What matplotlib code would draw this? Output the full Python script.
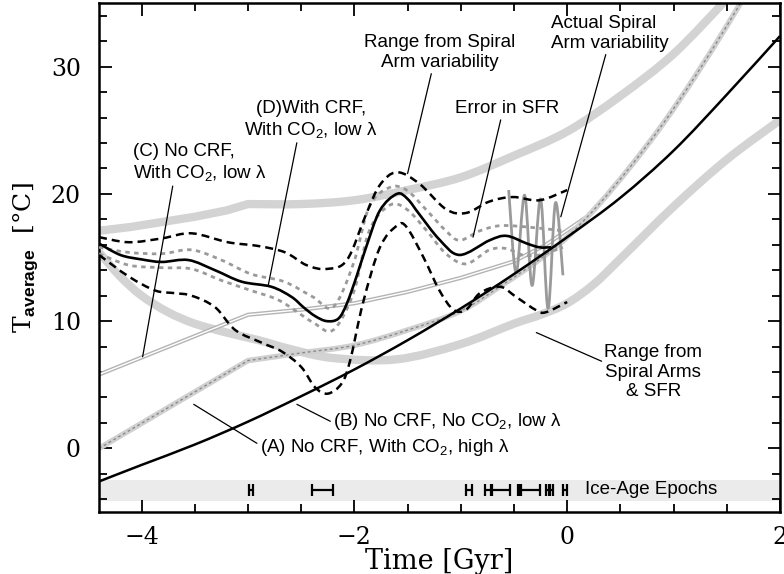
import matplotlib
matplotlib.use("Agg")
import matplotlib.pyplot as plt
import numpy as np
from matplotlib.path import Path
from matplotlib.patches import PathPatch
from matplotlib.ticker import MultipleLocator

plt.rcParams['font.family'] = ['DejaVu Serif']
plt.rcParams['mathtext.fontset'] = 'custom'
plt.rcParams['mathtext.rm'] = 'Liberation Sans'
plt.rcParams['mathtext.it'] = 'Liberation Sans:italic'
plt.rcParams['mathtext.bf'] = 'Liberation Sans:bold'

# range from spiral arms & SFR (upper / lower envelopes)
band_hi_t = [-4.4, -4.1, -3.8, -3.5, -3.2, -3.0, -2.5, -2.0, -1.5, -1.0, -0.5, 0.0, 0.5, 1.0, 1.5]
band_hi_T = [17.1, 17.4, 17.8, 18.2, 18.7, 19.2, 19.2, 19.5, 20.3, 21.3, 23.0, 24.9, 27.7, 31.0, 35.3]
band_lo_t = [-4.4, -4.2, -4.0, -3.75, -3.5, -3.2, -2.9, -2.6, -2.2, -1.6, -1.0, -0.5, -0.25, 0.0,
             0.25, 0.5, 1.0, 1.5, 2.0]
band_lo_T = [15.4, 13.5, 12.0, 10.7, 9.8, 9.1, 8.5, 7.8, 7.1, 7.0, 8.2, 9.8, 10.5, 11.4,
             12.9, 14.9, 19.0, 22.7, 25.8]

# (A) No CRF, With CO2, high lambda
a_t = [-4.4, -3.0, -2.5, -2.0, -1.5, -1.0, -0.6, -0.3, 0.0, 0.3, 0.6, 0.9, 1.2, 1.5, 1.65]
a_T = [0.0, 6.9, 7.5, 8.1, 9.3, 10.8, 12.9, 14.6, 16.6, 19.2, 22.2, 25.5, 29.2, 33.2, 35.3]

# (B) No CRF, No CO2, low lambda
b_t = [-4.4, -4.0, -3.5, -3.0, -2.5, -2.0, -1.5, -1.0, -0.5, 0.0, 0.5, 1.0, 1.5, 2.0]
b_T = [-2.6, -1.3, 0.3, 2.1, 4.1, 6.2, 8.5, 11.0, 13.7, 16.6, 19.7, 23.4, 27.8, 32.4]

# (C) No CRF, With CO2, low lambda
c_t = [-4.4, -3.0, -2.5, -2.0, -1.5, -1.0, -0.5, -0.2, 0.15]
c_T = [5.8, 10.5, 10.9, 11.4, 12.3, 13.4, 14.7, 16.0, 18.0]

# (D) With CRF, With CO2, low lambda
d_t = [-4.4, -4.2, -4.0, -3.81, -3.56, -3.31, -3.06, -2.78, -2.59, -2.48, -2.37, -2.26, -2.15, -2.07,
       -1.98, -1.89, -1.76, -1.6, -1.5, -1.39, -1.2, -1.01, -0.73, -0.57, -0.38, -0.26, -0.15]
d_T = [16.1, 15.2, 14.85, 14.65, 14.8, 14.0, 13.1, 12.7, 11.9, 11.1, 10.4, 10.0, 10.2, 11.4,
       13.5, 15.8, 18.7, 20.0, 19.6, 18.4, 16.4, 15.2, 16.35, 16.7, 16.1, 15.8, 15.8]

# spiral arm variability range around (D)
arm_hi_t = [-4.4, -4.12, -3.81, -3.53, -3.19, -2.9, -2.65, -2.45, -2.26, -2.07, -1.89, -1.76, -1.6,
            -1.39, -1.14, -0.95, -0.73, -0.51, -0.26, 0.0]
arm_hi_T = [16.6, 16.2, 16.5, 16.9, 16.2, 15.9, 15.4, 14.4, 14.1, 14.8, 18.4, 20.7, 21.7,
            20.8, 18.8, 18.5, 19.4, 19.75, 19.5, 20.3]
arm_lo_t = [-4.4, -4.12, -3.87, -3.69, -3.53, -3.31, -3.12, -2.87, -2.68, -2.5, -2.37, -2.25, -2.12,
            -2.04, -1.92, -1.76, -1.6, -1.51, -1.35, -1.2, -1.07, -0.95, -0.82, -0.63, -0.48, -0.29,
            -0.2, 0.0]
arm_lo_T = [15.2, 13.5, 12.4, 12.2, 12.0, 11.1, 9.3, 8.3, 7.6, 6.4, 4.8, 4.3, 5.1,
            6.9, 11.4, 15.8, 17.5, 17.4, 15.0, 12.4, 10.9, 10.9, 12.2, 12.7, 11.9, 10.85,
            10.7, 11.5]

# error in SFR around (D)
sfr_hi_t = [-4.4, -4.12, -3.81, -3.53, -3.25, -2.97, -2.66, -2.39, -2.2, -2.01, -1.86, -1.67, -1.51,
            -1.32, -1.14, -1.01, -0.82, -0.63, -0.38, -0.04]
sfr_hi_T = [15.8, 15.4, 15.3, 15.6, 14.8, 13.7, 13.1, 11.9, 11.1, 14.5, 19.0, 20.5, 20.3,
            18.7, 17.1, 16.35, 17.1, 17.5, 17.4, 17.1]
sfr_lo_t = [-4.4, -4.12, -3.81, -3.53, -3.25, -2.97, -2.7, -2.39, -2.2, -2.01, -1.86, -1.67, -1.51,
            -1.32, -1.14, -0.95, -0.73, -0.57, -0.42, -0.26, -0.04]
sfr_lo_T = [15.3, 14.4, 14.2, 14.1, 13.2, 12.4, 11.6, 9.9, 9.3, 12.2, 17.1, 19.1, 18.8,
            17.1, 15.3, 14.5, 15.6, 15.7, 15.2, 15.2, 15.8]

# actual spiral arm crossings (last ~500 Myr)
osc_t = [-0.55, -0.48, -0.40, -0.33, -0.25, -0.18, -0.11, -0.04]
osc_T = [20.3, 13.8, 19.9, 12.8, 19.6, 11.0, 19.3, 13.6]

# ice-age epochs [Gyr]
ice_start = [-2.99, -2.40, -0.95, -0.77, -0.71, -0.46, -0.43, -0.20, -0.16, -0.04]
ice_end = [-2.95, -2.20, -0.89, -0.72, -0.54, -0.44, -0.26, -0.17, -0.13, 0.0]
ice_T = -3.27


def smooth_path(x, y, straight=0):
    # first `straight` segments as lines, the rest as a Catmull-Rom curve
    pts = np.column_stack([x, y]).astype(float)
    n = len(pts)
    verts = [pts[0]]
    codes = [Path.MOVETO]
    for i in range(n - 1):
        p1, p2 = pts[i], pts[i + 1]
        if i < straight:
            verts.append(p2)
            codes.append(Path.LINETO)
            continue
        p0 = pts[i - 1] if i > straight else pts[i]
        p3 = pts[i + 2] if i + 2 < n else pts[i + 1]
        verts += [p1 + (p2 - p0) / 6, p2 - (p3 - p1) / 6, p2]
        codes += [Path.CURVE4] * 3
    return Path(verts, codes)


def curve(ax, x, y, straight=0, **kw):
    ax.add_patch(PathPatch(smooth_path(x, y, straight), fill=False, capstyle='butt',
                           joinstyle='round', **kw))


fig = plt.figure(figsize=(7.84, 5.74), dpi=100)
ax = fig.add_axes([0.1263, 0.108, 0.8686, 0.8868])
ax.set_xlim(-4.4, 2)
ax.set_ylim(-5, 35)

ax.axhspan(-4.1, -2.45, color='#ebebeb', lw=0, zorder=0)

# thick gray envelopes
curve(ax, band_hi_t, band_hi_T, straight=5, color='#d3d3d3', lw=6, zorder=1)
curve(ax, band_lo_t, band_lo_T, color='#d3d3d3', lw=6, zorder=1)

# (C) double gray line
ax.plot(c_t, c_T, color='#b4b4b4', lw=3.0, zorder=2)
ax.plot(c_t, c_T, color='white', lw=1.0, zorder=2)

# (A) gray line with dashed core
curve(ax, a_t, a_T, straight=1, color='#d0d0d0', lw=4, zorder=2)
curve(ax, a_t, a_T, straight=1, color='#8a8a8a', lw=1.0, ls=(0, (2, 2)), zorder=2)

# actual spiral arm variability
curve(ax, osc_t, osc_T, color='#9a9a9a', lw=2.0, zorder=3)

# error in SFR
curve(ax, sfr_hi_t, sfr_hi_T, color='#9a9a9a', lw=2.0, ls=(0, (1.6, 1.6)), zorder=3)
curve(ax, sfr_lo_t, sfr_lo_T, color='#9a9a9a', lw=2.0, ls=(0, (1.6, 1.6)), zorder=3)

# spiral arm range
curve(ax, arm_hi_t, arm_hi_T, color='black', lw=1.8, ls=(0, (3.2, 2.0)), zorder=4)
curve(ax, arm_lo_t, arm_lo_T, color='black', lw=1.8, ls=(0, (3.2, 2.0)), zorder=4)

# (B) and (D)
curve(ax, b_t, b_T, color='black', lw=1.8, zorder=5)
curve(ax, d_t, d_T, color='black', lw=1.9, zorder=5)

ax.errorbar([(s + e) / 2 for s, e in zip(ice_start, ice_end)], [ice_T] * len(ice_start),
            xerr=[(e - s) / 2 for s, e in zip(ice_start, ice_end)], fmt='none', ecolor='black',
            elinewidth=1.6, capsize=4, capthick=1.6, zorder=6)

sans = dict(family='Liberation Sans', fontsize=13.5)
line = dict(arrowstyle='-', lw=0.9, color='black', shrinkA=0, shrinkB=0)

ax.annotate('(D)With CRF,\nWith CO$_2$, low λ', xy=(-2.81, 12.8), xytext=(-2.41, 25.8),
            ha='center', va='center', multialignment='center',
            arrowprops=dict(relpos=(0.4, 0), **line), **sans)
ax.annotate('(C) No CRF,\nWith CO$_2$, low λ', xy=(-3.99, 7.2), xytext=(-4.08, 22.4),
            ha='left', va='center', multialignment='left',
            arrowprops=dict(relpos=(0.3, 0), **line), **sans)
ax.annotate('Range from Spiral\nArm variability', xy=(-1.50, 21.6), xytext=(-1.20, 31.1),
            ha='center', va='center', multialignment='center',
            arrowprops=dict(relpos=(0.45, 0), **line), **sans)
ax.annotate('Error in SFR', xy=(-0.885, 16.6), xytext=(-0.56, 26.7),
            ha='center', va='center',
            arrowprops=dict(relpos=(0.44, 0), **line), **sans)
ax.annotate('Actual Spiral\nArm variability', xy=(-0.06, 18.2), xytext=(-0.15, 32.6),
            ha='left', va='center', multialignment='left',
            arrowprops=dict(relpos=(0.47, 0), **line), **sans)
ax.annotate('Range from\nSpiral Arms\n& SFR', xy=(-0.29, 9.1), xytext=(0.81, 6.0),
            ha='center', va='center', multialignment='center',
            arrowprops=dict(relpos=(0, 0.67), **line), **sans)
ax.annotate('(B) No CRF, No CO$_2$, low λ', xy=(-2.54, 3.46), xytext=(-2.20, 2.1),
            ha='left', va='center',
            arrowprops=dict(relpos=(0, 0.45), **line), **sans)
ax.annotate('(A) No CRF, With CO$_2$, high λ', xy=(-3.51, 3.46), xytext=(-2.89, 0.1),
            ha='left', va='center',
            arrowprops=dict(relpos=(0, 0.6), **line), **sans)
ax.text(0.17, ice_T, 'Ice-Age Epochs', ha='left', va='center', **sans)

ax.set_xticks([-4, -2, 0, 2])
ax.set_yticks([0, 10, 20, 30])
ax.xaxis.set_minor_locator(MultipleLocator(0.5))
ax.yaxis.set_minor_locator(MultipleLocator(2))
ax.tick_params(which='both', direction='in', top=True, right=True, width=1.3, labelsize=17)
ax.tick_params(which='major', length=9)
ax.tick_params(axis='x', which='major', pad=10)
ax.tick_params(axis='y', which='major', pad=13)
ax.tick_params(which='minor', length=5.5)
for s in ax.spines.values():
    s.set_linewidth(1.8)

ax.set_xlabel('Time [Gyr]', fontsize=19.5, labelpad=-1)
ax.set_ylabel(r'T$_{\mathbf{average}}$  [°C]', fontsize=18, labelpad=8)

fig.savefig('out.png', dpi=100)
